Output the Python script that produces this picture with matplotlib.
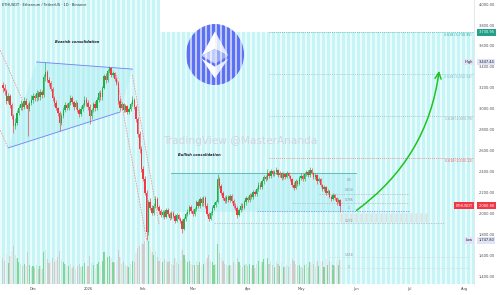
#!/usr/bin/env python3

import matplotlib
matplotlib.use("Agg")
from matplotlib import pyplot as plt
from matplotlib.patches import Polygon, Circle, Rectangle
import matplotlib.dates as mdates
import matplotlib.transforms as mtransforms
import numpy as np
import pandas as pd


START = "2025-11-14"
FIRST_OPEN = 3230

closes = [
    3200, 3170, 3080, 3120, 3040, 2930, 2840, 2870, 2960, 3010, 3050, 3020, 3080, 3040, 3000, 3060, 3090,
    3120, 3100, 3150, 3110, 3160, 3130, 3300, 3350, 3280, 3250, 3190, 3100, 3060, 3010, 2960, 2870,
    2930, 2990, 3040, 3010, 3060, 3100, 3070, 3020, 3060, 2990, 2950, 3000, 3040, 3090, 3060,
    3020, 2930, 2990, 3050, 3010, 3090, 3150, 3110, 3200, 3310, 3280, 3360, 3390, 3320, 3340, 3290,
    3250, 3080, 3010, 3050, 2990, 3030, 2970, 3000, 3050, 3090, 3020, 2900, 2760, 2620, 2430,
    2330, 2200, 1830, 2110, 2060, 2010, 2080, 2140, 2070, 2030, 1990, 2020, 1970, 2040, 2000,
    1960, 2010, 1980, 1930, 1990, 1950, 1930, 1860, 1950, 2000, 2020, 2070, 2030, 2000,
    2050, 2110, 2080, 2140, 2100, 2150, 2080, 2000, 1950, 2010, 2060, 2090, 2110, 2330, 2270,
    2200, 2150, 2120, 2160, 2130, 2170, 2120, 2080, 2060, 1990, 2040, 2080, 2060, 2110, 2150, 2130,
    2180, 2160, 2210, 2190, 2240, 2280, 2260, 2310, 2350, 2330, 2390, 2360, 2410, 2380, 2400,
    2420, 2370, 2390, 2340, 2380, 2350, 2390, 2360, 2330, 2280, 2250, 2310, 2290, 2340, 2360,
    2330, 2380, 2400, 2370, 2420, 2390, 2350, 2370, 2310, 2330, 2280, 2240, 2260, 2200, 2220,
    2160, 2140, 2180, 2150, 2110, 2130, 2080.88,
]
highs = [
    3260, 3240, 3190, 3150, 3140, 3060, 2950, 2910, 2990, 3040, 3090, 3070, 3110, 3100, 3060, 3080, 3130,
    3150, 3140, 3180, 3170, 3190, 3180, 3330, 3447.44, 3370, 3300, 3270, 3210, 3120, 3090, 3020, 2980,
    2960, 3020, 3070, 3060, 3080, 3130, 3120, 3080, 3090, 3070, 3010, 3030, 3060, 3120, 3110,
    3090, 3050, 3010, 3070, 3080, 3110, 3170, 3180, 3220, 3330, 3340, 3380, 3410, 3400, 3360,
    3350, 3300, 3270, 3100, 3070, 3060, 3050, 3040, 3020, 3070, 3120, 3100, 3040, 2920, 2790, 2650,
    2460, 2360, 2230, 2130, 2150, 2090, 2100, 2170, 2160, 2090, 2050, 2040, 2040, 2060, 2060,
    2020, 2030, 2030, 2000, 2010, 2000, 1970, 1950, 1970, 2020, 2050, 2090, 2090, 2050,
    2070, 2130, 2130, 2160, 2160, 2170, 2170, 2100, 2020, 2030, 2080, 2110, 2130, 2380, 2350,
    2290, 2220, 2170, 2180, 2180, 2190, 2190, 2140, 2100, 2080, 2060, 2100, 2100, 2130, 2170, 2170,
    2200, 2200, 2230, 2230, 2260, 2300, 2300, 2330, 2370, 2370, 2430, 2410, 2430, 2420, 2420,
    2450, 2430, 2410, 2400, 2400, 2390, 2410, 2400, 2370, 2340, 2300, 2330, 2320, 2360, 2390,
    2380, 2400, 2420, 2420, 2450, 2440, 2400, 2390, 2380, 2350, 2340, 2290, 2280, 2270, 2240,
    2230, 2180, 2200, 2190, 2160, 2150, 2140,
]
lows = [
    3160, 3130, 3050, 3060, 3010, 2900, 2770, 2810, 2850, 2940, 2990, 2990, 3000, 3010, 2740, 2980, 3040,
    3060, 3080, 3080, 3090, 3090, 3100, 3110, 3270, 3260, 3220, 3170, 3080, 3030, 2990, 2930, 2790,
    2850, 2910, 2970, 2990, 2990, 3040, 3050, 2990, 3000, 2970, 2920, 2930, 2980, 3020, 3030,
    2990, 2860, 2900, 2970, 2980, 2990, 3070, 3090, 3090, 3190, 3250, 3260, 3340, 3300, 3300,
    3270, 3230, 3050, 2980, 2990, 2970, 2970, 2950, 2950, 2980, 3030, 3000, 2880, 2730, 2580, 2400,
    2310, 2180, 1747.80, 1800, 2040, 1990, 1990, 2060, 2050, 2000, 1970, 1970, 1950, 1960, 1980,
    1940, 1950, 1960, 1910, 1920, 1940, 1910, 1820, 1850, 1930, 1980, 2000, 2010, 1980,
    1980, 2030, 2060, 2060, 2080, 2080, 2060, 1980, 1930, 1940, 1990, 2040, 2070, 2100, 2250,
    2180, 2130, 2100, 2100, 2110, 2110, 2100, 2060, 2040, 1960, 1980, 2020, 2040, 2050, 2090, 2110,
    2110, 2140, 2140, 2170, 2170, 2220, 2240, 2240, 2290, 2310, 2320, 2340, 2340, 2360, 2360,
    2380, 2350, 2350, 2320, 2330, 2330, 2340, 2340, 2310, 2260, 2230, 2240, 2270, 2280, 2320,
    2310, 2310, 2360, 2350, 2350, 2380, 2330, 2330, 2290, 2300, 2260, 2220, 2220, 2180, 2190,
    2150, 2120, 2130, 2130, 2090, 2100, 2019,
]
volumes = [
    620, 540, 720, 500, 660, 780, 900, 700, 620, 520, 480, 420, 470, 440, 760, 450, 400,
    430, 390, 460, 370, 420, 350, 760, 820, 600, 500, 560, 620, 520, 580, 640, 800,
    580, 520, 480, 420, 440, 470, 390, 430, 360, 420, 470, 400, 430, 500, 390,
    420, 660, 500, 460, 390, 470, 520, 420, 560, 760, 580, 640, 680, 620, 520,
    500, 550, 820, 650, 480, 520, 460, 420, 400, 470, 560, 520, 740, 860, 920, 980,
    960, 1020, 1100, 1040, 880, 760, 700, 780, 640, 560, 620, 520, 600, 560, 520,
    540, 480, 450, 620, 520, 480, 560, 820, 700, 600, 520, 560, 490, 450,
    460, 560, 450, 520, 440, 490, 520, 620, 700, 560, 520, 450, 490, 960, 740,
    640, 540, 490, 450, 420, 460, 440, 520, 480, 630, 530, 450, 410, 460, 490, 420,
    480, 410, 460, 380, 490, 560, 420, 520, 590, 450, 620, 480, 540, 450, 410,
    560, 490, 420, 520, 410, 400, 450, 410, 480, 590, 540, 490, 420, 450, 410,
    380, 460, 490, 410, 520, 450, 480, 410, 540, 440, 520, 560, 410, 590, 450,
    560, 520, 460, 440, 550, 460, 580,
]

price_ticks = list(range(1400, 4001, 200))
month_starts = ["2025-12-01", "2026-01-01", "2026-02-01", "2026-03-01", "2026-04-01",
                "2026-05-01", "2026-06-01", "2026-07-01", "2026-08-01"]
month_labels = ["Dec", "2026", "Feb", "Mar", "Apr", "May", "Jun", "Jul", "Aug"]

# drawings on the chart (date, price)
bear_lower = [("2025-11-17", 2629), ("2026-01-19", 2971)]
bear_upper = [("2025-12-03", 3448), ("2026-01-26", 3380)]
red_lines = [
    [("2025-11-12", 3581), ("2025-11-25", 3086)],
    [("2025-11-12", 2819), ("2025-11-17", 2629)],
    [("2026-01-17", 3324), ("2026-02-03", 1752)],
    [("2026-01-26", 3324), ("2026-02-10", 1905)],
]
bull_box = [("2026-02-17", 2020), ("2026-06-01", 2390)]

fib_ext_start = "2026-04-13"
fib_ext_levels = ["3.618", "2.618", "1.618", "0.618"]
fib_ext_prices = [3730.95, 3332.34, 2933.73, 2535.12]
fib_ext_colors = ["#26a69a", "#7ab8c4", "#9aa0a8", "#f7525f"]

fib_ret_lines = [
    ("2026-05-11", "2026-07-01", 2191, "#b2b5be"),
    ("2026-04-26", "2026-07-01", 2105, "#b2b5be"),
    ("2026-04-06", "2026-07-01", 2029, "#6f8cf0"),
    ("2026-03-13", "2026-07-21", 1914, "#b2b5be"),
    ("2026-05-17", "2026-08-04", 1590, "#d5d8de"),
    ("2026-05-17", "2026-08-04", 1486, "#d5d8de"),
]
fib_ret_labels = ["0.5", "0.618", "0.786", "1", "1.272", "1.618", "2"]
fib_ret_label_prices = [2324, 2229, 2133, 2057, 1933, 1610, 1495]
fib_ret_label_date = "2026-05-28"

arrow_from = ("2026-05-31", 2019)
arrow_to = ("2026-07-18", 3390)

last_price = 2080.88
high_price = 3447.44
low_price = 1747.80

UP = "#1fae45"
DOWN = "#f23a44"
FS = 2.6


def num(d):
    return mdates.date2num(pd.Timestamp(d))


def main():
    dates = pd.date_range(START, periods=len(closes))
    x = mdates.date2num(dates)
    c = np.array(closes, dtype=float)
    o = np.r_[FIRST_OPEN, c[:-1]]
    h = np.maximum(np.array(highs, dtype=float), np.maximum(o, c))
    l = np.minimum(np.array(lows, dtype=float), np.minimum(o, c))
    up = c >= o

    dec1 = num("2025-12-01")
    xlim = (dec1 - 18.6, dec1 + 248.45)
    ylim = (1333.3, 4038.1)

    fig = plt.figure(figsize=(5.0, 2.95), dpi=100)
    fig.patch.set_facecolor("white")
    pos = [0.0, 11 / 295, 474 / 500, 284 / 295]

    # background
    ax_bg = fig.add_axes(pos, zorder=0)
    ax_bg.set_xlim(xlim)
    ax_bg.set_ylim(ylim)
    ax_bg.axis("off")
    split = dec1 + 71.5
    ax_bg.fill_between([xlim[0], split], ylim[0], ylim[1], color="#c6f5f7", lw=0)
    ax_bg.fill_between([split, xlim[1]], ylim[0], fib_ext_prices[0], color="#c6f5f7", lw=0)

    # ethereum logo
    ax_logo = fig.add_axes([186 / 500, 1 - 85 / 295, 58 / 500, 61 / 295], zorder=1)
    ax_logo.set_xlim(-1, 1)
    ax_logo.set_ylim(-1, 1)
    ax_logo.axis("off")
    ax_logo.add_patch(Circle((0, 0), 1, color="#5a6ff4", lw=0))
    facets = [
        ([(0, 0.76), (-0.46, -0.04), (0, 0.18)], "#ffffff"),
        ([(0, 0.76), (0, 0.18), (0.46, -0.04)], "#dfe5fd"),
        ([(-0.46, -0.04), (0, 0.18), (0, -0.3)], "#c2ccfb"),
        ([(0, 0.18), (0.46, -0.04), (0, -0.3)], "#96a8f6"),
        ([(-0.46, -0.14), (0, -0.4), (0, -0.78)], "#ffffff"),
        ([(0, -0.4), (0.46, -0.14), (0, -0.78)], "#dfe5fd"),
    ]
    for pts, col in facets:
        ax_logo.add_patch(Polygon(pts, closed=True, color=col, lw=0))

    # volume
    ax_vol = fig.add_axes(pos, zorder=1.5)
    ax_vol.set_xlim(xlim)
    ax_vol.set_ylim(0, max(volumes) * 284 / 46)
    ax_vol.axis("off")
    ax_vol.bar(x, volumes, width=0.7, color=np.where(up, "#7fd49a", "#cccccc"), lw=0)

    # main price axes
    ax = fig.add_axes(pos, zorder=2)
    ax.patch.set_alpha(0)
    ax.set_xlim(xlim)
    ax.set_ylim(ylim)

    stripes = np.arange(xlim[0] + 0.6, xlim[1], 5 / 1.775)
    ax.vlines(stripes, ylim[0], ylim[1], color="white", alpha=0.62, lw=1.5, zorder=0.5)
    grey_band = stripes[(stripes > dec1 + 172) & (stripes < dec1 + 223)]
    ax.vlines(grey_band, 1925, 2005, color="#e2e2e2", lw=1.8, zorder=0.8)

    ax.text(0.506, 0.503, "TradingView @MasterAnanda", transform=ax.transAxes,
            fontsize=7.6, color="#d2d4e0", ha="center", va="center", zorder=0.7)

    # bearish consolidation
    lo = [(num(d), p) for d, p in bear_lower]
    hi = [(num(d), p) for d, p in bear_upper]
    ax.add_patch(Polygon([lo[0], hi[0], hi[1], lo[1]], closed=True, color="#9ee8f0",
                         alpha=0.35, lw=0, zorder=1))
    for seg in (lo, hi):
        ax.plot([p[0] for p in seg], [p[1] for p in seg], color="#6f7ff5", lw=0.6, zorder=3)
    ax.text(dec1 + 24.8, 3638, "Bearish consolidation", fontsize=FS, fontweight="bold",
            fontstyle="italic", color="#1c1c2a", ha="center", va="center", zorder=6)

    for seg in red_lines:
        ax.plot([num(d) for d, _ in seg], [p for _, p in seg], color="#f08a8a",
                lw=0.55, ls=(0, (2, 1.5)), zorder=3)

    # bullish consolidation
    (d0, p0), (d1, p1) = bull_box
    ax.add_patch(Rectangle((num(d0), p0), num(d1) - num(d0), p1 - p0, color="#9ee8f0",
                           alpha=0.35, lw=0, zorder=1))
    ax.plot([num(d0), num(d1)], [p1, p1], color="#4db6ac", lw=0.6, zorder=3)
    ax.text(dec1 + 94, 2562, "Bullish consolidation", fontsize=FS, fontweight="bold",
            fontstyle="italic", color="#1c1c2a", ha="center", va="center", zorder=6)

    blend = mtransforms.blended_transform_factory(ax.transAxes, ax.transData)

    # fib extension
    for lev, pr, col in zip(fib_ext_levels, fib_ext_prices, fib_ext_colors):
        ax.plot([num(fib_ext_start), xlim[1]], [pr, pr], color=col, lw=0.5,
                ls=(0, (1.5, 1.5)), alpha=0.8, zorder=2)
        ax.text(0.996, pr - 28, f"{lev} ({pr:,.2f})", transform=blend,
                fontsize=FS - 0.3, color=col, ha="right", va="center", zorder=6)

    for a, b, pr, col in fib_ret_lines:
        ax.plot([num(a), num(b)], [pr, pr], color=col, lw=0.5, ls=(0, (2, 1.5)), zorder=2)
    for lab, pr in zip(fib_ret_labels, fib_ret_label_prices):
        ax.text(num(fib_ret_label_date), pr, lab, fontsize=FS - 0.4, color="#8a8e99",
                ha="center", va="center", zorder=6)

    # candles
    colors = np.where(up, UP, DOWN)
    ax.vlines(x, l, h, color=colors, lw=0.45, zorder=4)
    ax.bar(x, np.maximum(np.abs(c - o), 6), bottom=np.minimum(o, c), width=0.75,
           color=colors, lw=0, zorder=5)

    # projection arrow
    ax.annotate("", xy=(num(arrow_to[0]), arrow_to[1]), xytext=(num(arrow_from[0]), arrow_from[1]),
                arrowprops=dict(arrowstyle="->,head_length=0.45,head_width=0.22", color="#1ec41e",
                                lw=1.1, connectionstyle="arc3,rad=0.22"), zorder=7)

    # axes styling
    for s in ["top", "left", "bottom"]:
        ax.spines[s].set_visible(False)
    ax.spines["right"].set_color("#e0e3eb")
    ax.spines["right"].set_linewidth(0.6)
    ax.yaxis.tick_right()
    ax.set_yticks(price_ticks)
    ax.set_yticklabels([f"{p:,.2f}" for p in price_ticks])
    ax.tick_params(axis="y", length=0, pad=3.2, labelsize=FS, labelcolor="#4a4a4a")
    ax.set_xticks([num(d) for d in month_starts])
    ax.set_xticklabels(month_labels)
    ax.tick_params(axis="x", length=0, pad=2.0, labelsize=FS, labelcolor="#4a4a4a")

    def price_tag(price, text, fc, tc):
        ax.text(1.009, price, text, transform=blend, fontsize=FS, color=tc, ha="left",
                va="center", clip_on=False, zorder=8,
                bbox=dict(boxstyle="square,pad=0.35", fc=fc, ec="none"))

    price_tag(fib_ext_prices[0], f"{fib_ext_prices[0]:,.2f}", "#22a088", "white")
    price_tag(high_price, f"{high_price:,.2f}", "#dfe4f8", "#222222")
    price_tag(low_price, f"{low_price:,.2f}", "#dfe4f8", "#222222")
    price_tag(last_price, f"{last_price:,.2f}", "#f23645", "white")

    ax.text(0.997, high_price, "High", transform=blend, fontsize=FS, color="#222222", ha="right",
            va="center", zorder=8, bbox=dict(boxstyle="square,pad=0.3", fc="#dfe4f8", ec="none"))
    ax.text(0.997, low_price, "Low", transform=blend, fontsize=FS, color="#222222", ha="right",
            va="center", zorder=8, bbox=dict(boxstyle="square,pad=0.3", fc="#dfe4f8", ec="none"))
    ax.text(0.997, last_price, "ETHUSDT", transform=blend, fontsize=FS, color="white", ha="right",
            va="center", zorder=8, bbox=dict(boxstyle="square,pad=0.35", fc="#f23645", ec="none"))

    fig.text(2 / 500, 1 - 5 / 295, "ETHUSDT · Ethereum / TetherUS · 1D · Binance",
             fontsize=FS, color="#333333", ha="left", va="center")

    fig.savefig("out.png", dpi=100)


if __name__ == "__main__":
    main()
